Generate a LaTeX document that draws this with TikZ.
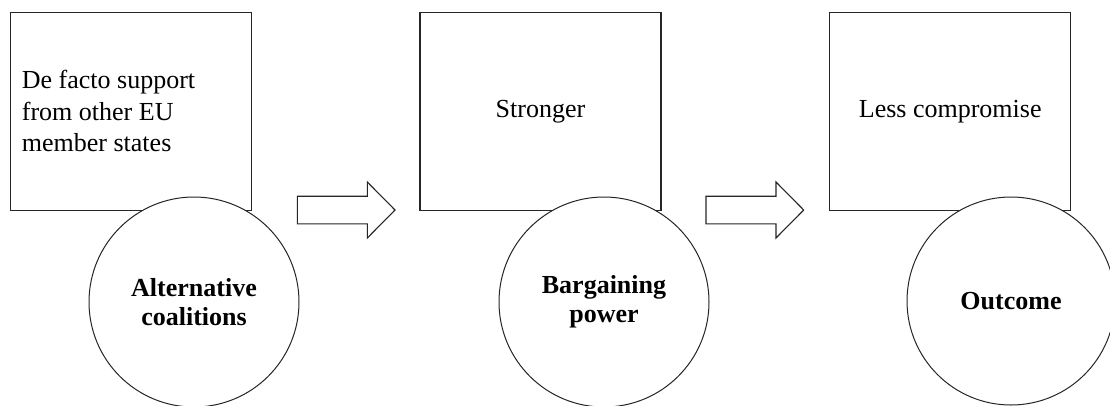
\documentclass[tikz,border=0pt]{standalone}
\usepackage{fontspec}
\setmainfont{Liberation Serif}
\begin{document}
\begin{tikzpicture}[x=1pt,y=-1pt,
  frame/.style={draw=black!85, line width=1.1pt, minimum width=241pt,
    minimum height=197.3pt, inner sep=0pt, align=center,
    font=\fontsize{26}{31.5}\selectfont},
  ball/.style={circle, draw=black!85, fill=white, line width=1pt,
    minimum size=210pt, inner sep=0pt, align=center,
    font=\bfseries\fontsize{26}{29}\selectfont},
  blockarrow/.pic={
    \draw[draw=black!85, line width=1.1pt, line join=miter]
      (0,-13.8) -- (70,-13.8) -- (70,-28) -- (97.7,0) -- (70,28)
      -- (70,13.8) -- (0,13.8) -- cycle;
  }]
\useasboundingbox (0,0) rectangle (1110,405);

% boxes
\node[frame, text width=219pt, inner xsep=11pt, align=flush left] (support)
  at (131.4,111.4) {De facto support\\from other EU\\member states};
\node[frame] (stronger) at (540.5,111.4) {Stronger};
\node[frame] (compromise) at (950.2,111.4) {Less compromise};

% circles drawn over the boxes
\node[ball] (coalitions) at (194,302) {Alternative\\coalitions};
\node[ball] (power) at (604,302) {Bargaining\\power};
\node[ball, minimum size=208pt] (outcome) at (1011,301) {Outcome};

% block arrows between the stages
\coordinate (a1) at (297.3,210);
\coordinate (a2) at (706,210);
\pic at (a1) {blockarrow};
\pic at (a2) {blockarrow};
\end{tikzpicture}
\end{document}
